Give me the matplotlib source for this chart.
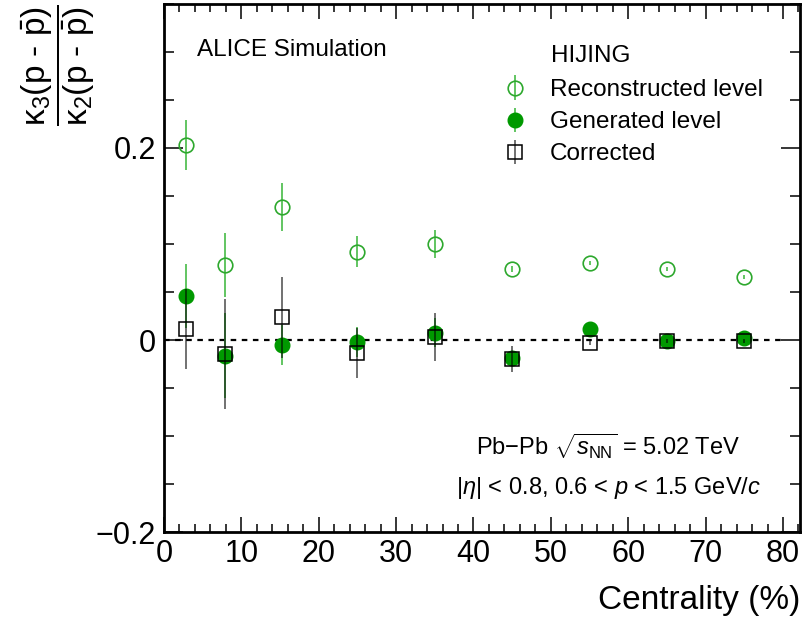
import numpy as np
import matplotlib
matplotlib.use('Agg')
import matplotlib.pyplot as plt
from matplotlib.ticker import MultipleLocator

plt.rcParams['font.family'] = ['Liberation Sans', 'DejaVu Sans']
plt.rcParams['mathtext.fontset'] = 'custom'
plt.rcParams['mathtext.rm'] = 'Liberation Sans'
plt.rcParams['mathtext.it'] = 'Liberation Sans:italic'
plt.rcParams['mathtext.bf'] = 'Liberation Sans:bold'

# centrality bins (%)
cent = np.array([2.9, 7.9, 15.2, 25, 35, 45, 55, 65, 75])

# reconstructed level
rec = np.array([0.203, 0.078, 0.1385, 0.092, 0.100, 0.074, 0.0806, 0.074, 0.066])
rec_err = np.array([0.026, 0.033, 0.025, 0.016, 0.015, 0.003, 0.002, 0.002, 0.002])

# generated level
gen = np.array([0.046, -0.0163, -0.005, -0.002, 0.0076, -0.019, 0.011, -0.001, 0.0025])
gen_err = np.array([0.033, 0.044, 0.021, 0.016, 0.015, 0.004, 0.002, 0.002, 0.002])

# corrected
cor = np.array([0.0115, -0.0148, 0.0236, -0.014, 0.003, -0.020, -0.0035, -0.001, -0.001])
cor_err = np.array([0.042, 0.057, 0.042, 0.026, 0.025, 0.0135, 0.002, 0.002, 0.002])

W, H = 808, 620
fig = plt.figure(figsize=(W / 100, H / 100), dpi=100)
ax = fig.add_axes([164 / W, 1 - 532 / H, (800 - 164) / W, (532 - 4) / H])

# reference line at zero
ax.plot([0, 80], [0, 0], color='black', lw=1.6, ls=(0, (2.5, 2.5)), zorder=1)

h_rec = ax.errorbar(cent, rec, yerr=rec_err, fmt='o', ms=10.5, mfc='none',
                    mec='#2da82d', mew=1.2, ecolor='#55c055', elinewidth=1.3,
                    capsize=0, zorder=2)
h_gen = ax.errorbar(cent, gen, yerr=gen_err, fmt='o', ms=10.5, mfc='#009900',
                    mec='#009900', ecolor='#55c055', elinewidth=1.3,
                    capsize=0, zorder=3)
h_cor = ax.errorbar(cent, cor, yerr=cor_err, fmt='s', ms=10, mfc='none',
                    mec='black', mew=1.1, ecolor=(0, 0, 0, 0.6), elinewidth=1.3,
                    capsize=0, zorder=4)

ax.set_xlim(0, 82.2)
ax.set_ylim(-0.2, 0.35)
ax.xaxis.set_major_locator(MultipleLocator(10))
ax.xaxis.set_minor_locator(MultipleLocator(2))
ax.yaxis.set_major_locator(MultipleLocator(0.2))
ax.yaxis.set_minor_locator(MultipleLocator(0.05))
ax.yaxis.set_major_formatter(lambda v, p: '0' if abs(v) < 1e-9 else f'{v:.1f}'.replace('-', '\u2212'))

ax.tick_params(which='both', direction='in', top=True, right=True, width=1.1,
               labelsize=22)
ax.tick_params(axis='x', which='major', length=11, pad=5)
ax.tick_params(axis='x', which='minor', length=5.5)
ax.tick_params(axis='y', which='major', length=14, pad=6)
ax.tick_params(axis='y', which='minor', length=7.5)
for s in ax.spines.values():
    s.set_linewidth(2)

ax.set_xlabel('Centrality (%)', fontsize=24, loc='right')
ax.xaxis.set_label_coords(1.0, -0.100)
ax.set_ylabel(r'$\dfrac{\mathrm{\kappa_3(p\ \text{-}\ \bar{p})}}{\mathrm{\kappa_2(p\ \text{-}\ \bar{p})}}$',
              fontsize=24, loc='top')
ax.yaxis.set_label_coords(-0.1053, 1.0)

fig.text(196.7 / W, 1 - 56 / H, 'ALICE Simulation', fontsize=17.5, va='baseline')
fig.text(550.7 / W, 1 - 61.7 / H, 'HIJING', fontsize=17.5, va='baseline')

ax.legend([h_rec, h_gen, h_cor], ['Reconstructed level', 'Generated level', 'Corrected'],
          loc='upper left', bbox_to_anchor=(504 / W, 1 - 79 / H),
          bbox_transform=fig.transFigure, frameon=False, fontsize=17.5,
          handlelength=0.9, handletextpad=1.0, labelspacing=0.42,
          borderpad=0, borderaxespad=0)

fig.text(608 / W, 1 - 455 / H, 'Pb\u2212Pb $\\sqrt{s_{\\mathrm{NN}}}$ = 5.02 TeV',
         fontsize=17, ha='center', va='baseline')
fig.text(608 / W, 1 - 494 / H, r'|$\eta$| < 0.8, 0.6 < $p$ < 1.5 GeV/$c$',
         fontsize=17, ha='center', va='baseline')

fig.savefig('out.png', dpi=100)
